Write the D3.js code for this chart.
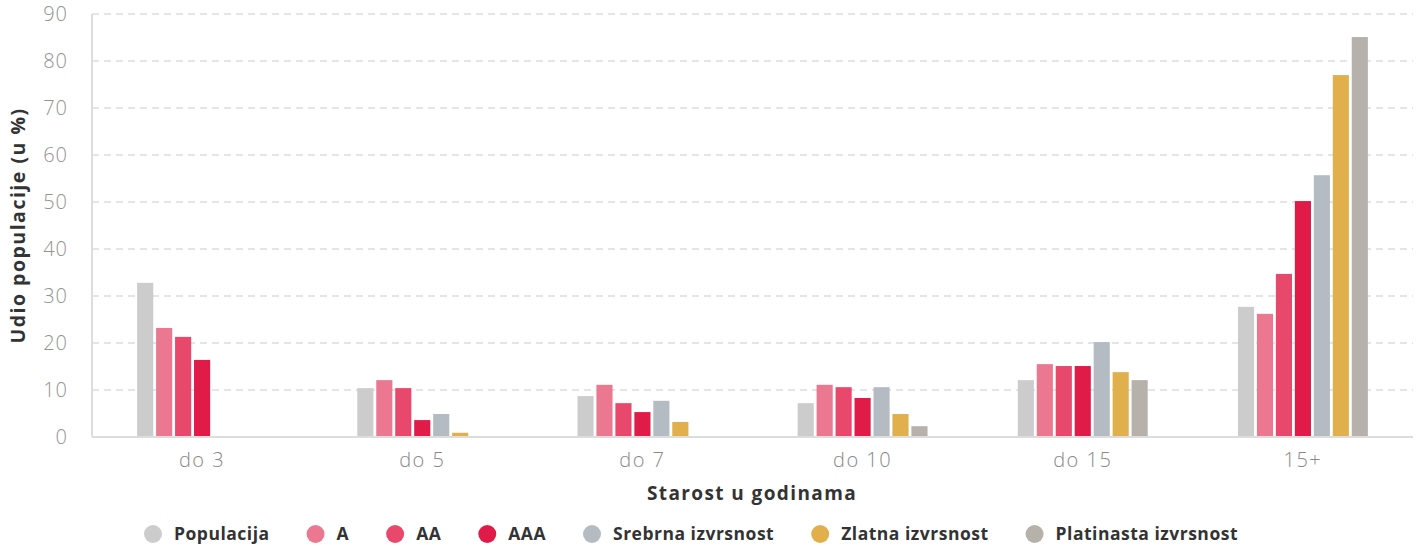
<!DOCTYPE html>
<html>
<head>
<meta charset="utf-8">
<script src="https://cdn.jsdelivr.net/npm/d3@7"></script>
<style>
  body { margin: 0; background: #fff; }
  svg text { font-family: "Open Sans", "Roboto", sans-serif; }
</style>
</head>
<body>
<div id="chart"></div>
<script>
const categories = ["do 3", "do 5", "do 7", "do 10", "do 15", "15+"];
const seriesNames = ["Populacija", "A", "AA", "AAA", "Srebrna izvrsnost", "Zlatna izvrsnost", "Platinasta izvrsnost"];
const populacija = [32.8, 10.4, 8.7, 7.2, 12.1, 27.7];
const seriesA = [23.2, 12.1, 11.1, 11.1, 15.5, 26.2];
const seriesAA = [21.3, 10.4, 7.2, 10.6, 15.1, 34.7];
const seriesAAA = [16.4, 3.6, 5.3, 8.3, 15.1, 50.2];
const srebrna = [0, 4.9, 7.7, 10.6, 20.2, 55.7];
const zlatna = [0, 0.9, 3.2, 4.9, 13.8, 77.0];
const platinasta = [0, 0, 0.2, 2.3, 12.1, 85.1];
const yTicks = [0, 10, 20, 30, 40, 50, 60, 70, 80, 90];

const colors = ["#cccccc", "#ec7790", "#e7486b", "#e01b48", "#b5bbc3", "#e1b04d", "#b6b1ab"];
const allSeries = [populacija, seriesA, seriesAA, seriesAAA, srebrna, zlatna, platinasta];

const width = 1421, height = 546;
const margin = { top: 14, right: 8, bottom: 109, left: 92 };

const svg = d3.select("#chart")
  .append("svg")
  .attr("width", width)
  .attr("height", height);

const x0 = d3.scaleBand()
  .domain(categories)
  .range([margin.left, width - margin.right])
  .paddingInner(0.41)
  .paddingOuter(0.205);

const x1 = d3.scaleBand()
  .domain(seriesNames)
  .range([0, x0.bandwidth()])
  .paddingInner(0.15);

const y = d3.scaleLinear()
  .domain([0, 90])
  .range([height - margin.bottom, margin.top]);

// grid lines
svg.append("g")
  .selectAll("line")
  .data(yTicks.filter(d => d > 0))
  .join("line")
  .attr("x1", margin.left)
  .attr("x2", width - margin.right)
  .attr("y1", d => y(d))
  .attr("y2", d => y(d))
  .attr("stroke", "#dddddd")
  .attr("stroke-width", 1.5)
  .attr("stroke-dasharray", "7,5");

// bars
const groups = svg.append("g")
  .selectAll("g")
  .data(categories)
  .join("g")
  .attr("transform", d => `translate(${x0(d)},0)`);

groups.selectAll("rect")
  .data((c, ci) => seriesNames.map((s, si) => ({ s, si, v: allSeries[si][ci] })))
  .join("rect")
  .attr("x", d => x1(d.s))
  .attr("width", x1.bandwidth())
  .attr("y", d => y(d.v))
  .attr("height", d => y(0) - y(d.v))
  .attr("fill", d => colors[d.si]);

// axes lines
svg.append("line")
  .attr("x1", margin.left).attr("x2", margin.left)
  .attr("y1", margin.top).attr("y2", y(0))
  .attr("stroke", "#dddddd").attr("stroke-width", 2);
svg.append("line")
  .attr("x1", margin.left).attr("x2", width - margin.right)
  .attr("y1", y(0)).attr("y2", y(0))
  .attr("stroke", "#dddddd").attr("stroke-width", 2);

// y tick labels
svg.append("g")
  .selectAll("text")
  .data(yTicks)
  .join("text")
  .attr("x", 68)
  .attr("y", d => y(d))
  .attr("dy", "0.35em")
  .attr("text-anchor", "end")
  .attr("font-size", 20)
  .attr("font-weight", 300)
  .attr("letter-spacing", 1)
  .attr("fill", "#939393")
  .text(d => d);

// x tick labels
svg.append("g")
  .selectAll("text")
  .data(categories)
  .join("text")
  .attr("x", d => x0(d) + x0.bandwidth() / 2)
  .attr("y", 467)
  .attr("text-anchor", "middle")
  .attr("font-size", 20)
  .attr("font-weight", 300)
  .attr("letter-spacing", 1.5)
  .attr("fill", "#888888")
  .text(d => d);

// axis titles
svg.append("text")
  .attr("transform", `translate(25, ${(margin.top + y(0)) / 2}) rotate(-90)`)
  .attr("text-anchor", "middle")
  .attr("font-size", 19.5)
  .attr("font-weight", "bold")
  .attr("letter-spacing", 1.5)
  .attr("fill", "#333333")
  .text("Udio populacije (u %)");

svg.append("text")
  .attr("x", 752)
  .attr("y", 500)
  .attr("text-anchor", "middle")
  .attr("font-size", 19)
  .attr("font-weight", "bold")
  .attr("letter-spacing", 1.4)
  .attr("fill", "#333333")
  .text("Starost u godinama");

// legend
const legend = svg.append("g");
let lx = 0;
seriesNames.forEach((name, i) => {
  const item = legend.append("g").attr("transform", `translate(${lx},0)`);
  item.append("circle").attr("cx", 9).attr("cy", 0).attr("r", 9).attr("fill", colors[i]);
  const t = item.append("text")
    .attr("x", 30)
    .attr("y", 0)
    .attr("dy", "0.35em")
    .attr("font-size", 17.5)
    .attr("font-weight", "bold")
    .attr("letter-spacing", 0.5)
    .attr("fill", "#333333")
    .text(name);
  lx += 30 + t.node().getComputedTextLength() + 37;
});
const legendW = lx - 37;
legend.attr("transform", `translate(${691 - legendW / 2}, 534)`);
</script>
</body>
</html>
